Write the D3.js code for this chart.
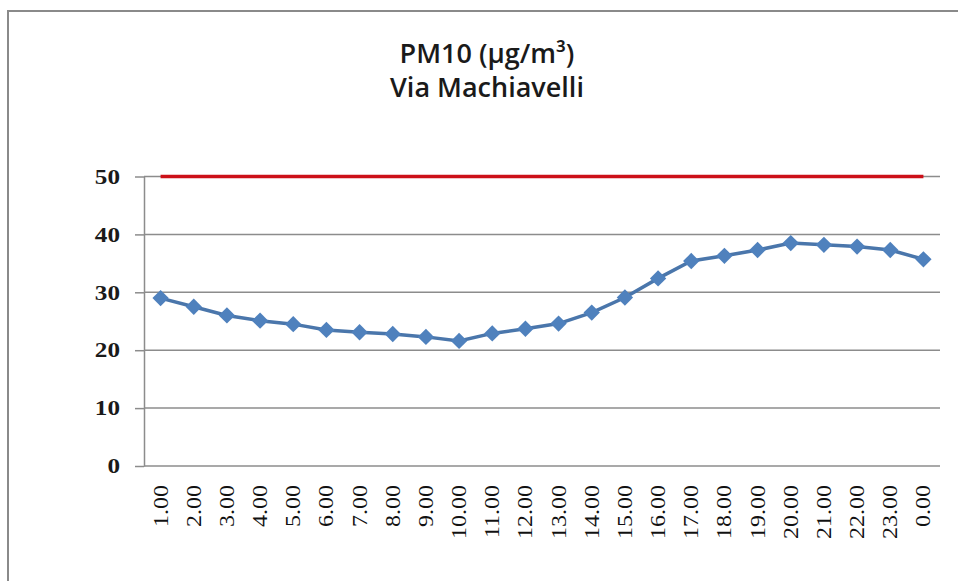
<!DOCTYPE html>
<html>
<head>
<meta charset="utf-8">
<script src="https://cdn.jsdelivr.net/npm/d3@7"></script>
<style>
  body { margin: 0; background: #fff; }
  svg { display: block; }
</style>
</head>
<body>
<div id="drawing_region"></div>
<script>
// ore del giorno e concentrazioni medie PM10
var hours = ["1.00","2.00","3.00","4.00","5.00","6.00","7.00","8.00","9.00","10.00","11.00","12.00",
             "13.00","14.00","15.00","16.00","17.00","18.00","19.00","20.00","21.00","22.00","23.00","0.00"];
var pm10 = [29.0, 27.5, 26.0, 25.1, 24.5, 23.5, 23.1, 22.8, 22.3, 21.6, 22.9, 23.7,
            24.6, 26.5, 29.1, 32.4, 35.4, 36.3, 37.3, 38.5, 38.2, 37.9, 37.3, 35.7];
var limit = hours.map(function() { return 50; });
var yTicks = [0, 10, 20, 30, 40, 50];
var titleLines = ["PM10 (\u00b5g/m\u00b3)", "Via Machiavelli"];

var width = 958, height = 581;
var plot = { left: 144, right: 940, top: 176.5, bottom: 466 };
var sx = 1.2; // i caratteri dell'originale sono più larghi del Times

var svg = d3.select("#drawing_region")
    .append("svg")
    .attr("width", width)
    .attr("height", height);

// cornice del grafico
svg.append("rect")
    .attr("x", 8).attr("y", 11)
    .attr("width", 1000).attr("height", 1000)
    .attr("fill", "none")
    .attr("stroke", "#8a8a8a")
    .attr("stroke-width", 2);

// titolo
svg.append("g").selectAll("text")
    .data(titleLines)
    .enter()
    .append("text")
    .attr("x", 487)
    .attr("y", function(d, i) { return 63 + i * 34; })
    .attr("text-anchor", "middle")
    .attr("font-family", "'Open Sans', sans-serif")
    .attr("font-weight", 600)
    .attr("font-size", 27)
    .attr("fill", "#1a1a1a")
    .text(function(d) { return d; });

var xScale = d3.scaleBand()
    .domain(hours)
    .range([plot.left, plot.right])
    .padding(0);

var yScale = d3.scaleLinear()
    .domain([0, 50])
    .range([plot.bottom, plot.top]);

// griglia orizzontale
svg.append("g").selectAll("line")
    .data(yTicks)
    .enter()
    .append("line")
    .attr("x1", plot.left).attr("x2", plot.right)
    .attr("y1", function(d) { return yScale(d); })
    .attr("y2", function(d) { return yScale(d); })
    .attr("stroke", "#8c8c8c")
    .attr("stroke-width", 1.5);

// asse y
var yAxis = svg.append("g")
    .attr("transform", "translate(" + plot.left + ",0)")
    .call(d3.axisLeft(yScale).tickValues(yTicks).tickSizeInner(9).tickSizeOuter(0).tickPadding(15));
yAxis.select(".domain").attr("stroke", "#8c8c8c").attr("stroke-width", 1.5);
yAxis.selectAll(".tick line").attr("stroke", "#8c8c8c").attr("stroke-width", 1.5);
yAxis.selectAll(".tick text")
    .attr("x", -24 / sx)
    .attr("transform", "scale(" + sx + ",1)")
    .attr("font-family", "'Liberation Serif', 'Times New Roman', serif")
    .attr("font-weight", "bold")
    .attr("font-size", 21)
    .attr("fill", "#1a1a1a");

// asse x
var xAxis = svg.append("g")
    .attr("transform", "translate(0," + plot.bottom + ")")
    .call(d3.axisBottom(xScale).tickSize(0));
xAxis.select(".domain").remove();
xAxis.selectAll(".tick text")
    .attr("x", -19 / sx)
    .attr("y", 0)
    .attr("dy", "0.35em")
    .attr("text-anchor", "end")
    .attr("transform", "rotate(-90) scale(" + sx + ",1)")
    .attr("font-family", "'Liberation Serif', 'Times New Roman', serif")
    .attr("font-size", 20)
    .attr("fill", "#111");

var cx = function(d, i) { return xScale(hours[i]) + xScale.bandwidth() / 2; };

// valore limite
svg.append("path")
    .datum(limit)
    .attr("fill", "none")
    .attr("stroke", "#cc1018")
    .attr("stroke-width", 3.5)
    .attr("d", d3.line().x(cx).y(function(d) { return yScale(d); }));

// serie PM10
svg.append("path")
    .datum(pm10)
    .attr("fill", "none")
    .attr("stroke", "#4a76ab")
    .attr("stroke-width", 3.5)
    .attr("d", d3.line().x(cx).y(function(d) { return yScale(d); }));

svg.append("g").selectAll("path")
    .data(pm10)
    .enter()
    .append("path")
    .attr("transform", function(d, i) { return "translate(" + cx(d, i) + "," + yScale(d) + ")"; })
    .attr("d", d3.symbol().type(d3.symbolDiamond2).size(170))
    .attr("fill", "#4f81bd");
</script>
</body>
</html>
